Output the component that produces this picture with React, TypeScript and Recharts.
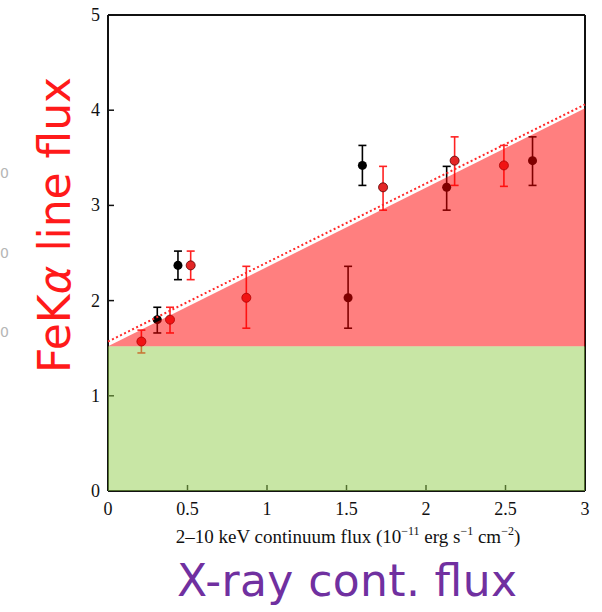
import React from "react";
import {
  ComposedChart,
  XAxis,
  YAxis,
  Scatter,
  ErrorBar,
  Area,
  Line,
} from "recharts";

// Continuum flux (10^-11 erg/s/cm2) vs FeKa line flux, two groups of observations
const blackX = [0.31, 0.44, 1.51, 1.6, 2.13, 2.67];
const blackY = [1.8, 2.37, 2.03, 3.42, 3.19, 3.47];
const blackLo = [1.66, 2.22, 1.71, 3.21, 2.95, 3.21];
const blackHi = [1.93, 2.52, 2.36, 3.63, 3.41, 3.72];

const redX = [0.21, 0.39, 0.52, 0.87, 1.73, 2.18, 2.49];
const redY = [1.57, 1.8, 2.37, 2.03, 3.19, 3.47, 3.42];
const redLo = [1.45, 1.66, 2.22, 1.71, 2.95, 3.21, 3.2];
const redHi = [1.69, 1.93, 2.52, 2.36, 3.41, 3.72, 3.63];

// shaded regions: constant part and the part that scales with continuum
const regionX = [0, 3];
const greenTop = [1.52, 1.52];
const redTop = [1.52, 4.02];
const dottedY = [1.57, 4.06];

const xTicks = [0, 0.5, 1, 1.5, 2, 2.5, 3];
const yTicks = [0, 1, 2, 3, 4, 5];

const toPoints = (xs: number[], ys: number[], lo: number[], hi: number[]) =>
  xs.map((x, i) => ({ x, y: ys[i], err: [ys[i] - lo[i], hi[i] - ys[i]] }));

const blackData = toPoints(blackX, blackY, blackLo, blackHi);
const redData = toPoints(redX, redY, redLo, redHi);
const greenData = regionX.map((x, i) => ({ x, y: greenTop[i] }));
const wedgeData = regionX.map((x, i) => ({ x, y: redTop[i] }));
const dottedData = regionX.map((x, i) => ({ x, y: dottedY[i] }));

const SERIF = "Liberation Serif";
const SANS = "DejaVu Sans";

function XTick({ x, y, payload }: any) {
  return (
    <text
      x={x}
      y={y + 13}
      textAnchor="middle"
      fontFamily={SERIF}
      fontSize={18}
      fill="#111"
    >
      {payload.value}
    </text>
  );
}

function YTick({ x, y, payload }: any) {
  return (
    <text
      x={x}
      y={y + 6}
      textAnchor="end"
      fontFamily={SERIF}
      fontSize={18}
      fill="#111"
    >
      {payload.value}
    </text>
  );
}

function XTitle() {
  return (
    <text
      x={348}
      y={543}
      textAnchor="middle"
      fontFamily={SERIF}
      fontSize={19}
      fill="#111"
    >
      <tspan>2–10 keV continuum flux (10</tspan>
      <tspan fontSize={12} dy={-8}>−11</tspan>
      <tspan dy={8}> erg s</tspan>
      <tspan fontSize={12} dy={-8}>−1</tspan>
      <tspan dy={8}> cm</tspan>
      <tspan fontSize={12} dy={-8}>−2</tspan>
      <tspan dy={8}>)</tspan>
    </text>
  );
}

const axisLine = { stroke: "#111", strokeWidth: 2 };
const tickLine = { stroke: "#111", strokeWidth: 1.5 };

export default function App() {
  return (
    <div
      style={{
        position: "absolute",
        left: 0,
        top: 0,
        width: 602,
        height: 612,
        background: "#fff",
        overflow: "hidden",
      }}
    >
      <ComposedChart
        width={602}
        height={612}
        margin={{ top: 10, right: 12, left: 78, bottom: 91 }}
      >
        <XAxis
          xAxisId="b"
          type="number"
          dataKey="x"
          domain={[0, 3]}
          ticks={xTicks}
          height={30}
          tickSize={-6}
          tickMargin={17}
          tick={<XTick />}
          axisLine={axisLine}
          tickLine={tickLine}
          label={<XTitle />}
        />
        <XAxis
          xAxisId="t"
          orientation="top"
          type="number"
          dataKey="x"
          domain={[0, 3]}
          ticks={xTicks}
          height={5}
          tickSize={-6}
          tick={false}
          axisLine={axisLine}
          tickLine={tickLine}
        />
        <YAxis
          yAxisId="l"
          type="number"
          domain={[0, 5]}
          ticks={yTicks}
          width={30}
          tickSize={-6}
          tickMargin={14}
          tick={<YTick />}
          axisLine={axisLine}
          tickLine={tickLine}
        />
        <YAxis
          yAxisId="r"
          orientation="right"
          type="number"
          domain={[0, 5]}
          ticks={yTicks}
          width={5}
          tickSize={-6}
          tick={false}
          axisLine={axisLine}
          tickLine={tickLine}
        />
        <Scatter
          xAxisId="b"
          yAxisId="l"
          data={blackData}
          dataKey="y"
          shape="circle"
          fill="#000"
          isAnimationActive={false}
        >
          <ErrorBar
            dataKey="err"
            direction="y"
            width={4}
            stroke="#000"
            strokeWidth={1.6}
          />
        </Scatter>
        <Scatter
          xAxisId="b"
          yAxisId="l"
          data={redData}
          dataKey="y"
          shape="circle"
          fill="#e32626"
          stroke="#5a0000"
          strokeWidth={0.8}
          isAnimationActive={false}
        >
          <ErrorBar
            dataKey="err"
            direction="y"
            width={4}
            stroke="#f22"
            strokeWidth={1.6}
          />
        </Scatter>
        <Area
          xAxisId="b"
          yAxisId="l"
          data={greenData}
          dataKey="y"
          type="linear"
          baseValue={0}
          fill="#91cd4b"
          fillOpacity={0.5}
          stroke="none"
          zIndex={800}
          isAnimationActive={false}
        />
        <Area
          xAxisId="b"
          yAxisId="l"
          data={wedgeData}
          dataKey="y"
          type="linear"
          baseValue={1.52}
          fill="#ff0000"
          fillOpacity={0.5}
          stroke="none"
          zIndex={800}
          isAnimationActive={false}
        />
        <Line
          xAxisId="b"
          yAxisId="l"
          data={dottedData}
          dataKey="y"
          type="linear"
          stroke="#ff2a2a"
          strokeWidth={2}
          strokeDasharray="2 2.5"
          dot={false}
          zIndex={850}
          isAnimationActive={false}
        />
      </ComposedChart>
      <svg
        width={602}
        height={612}
        style={{ position: "absolute", left: 0, top: 0, pointerEvents: "none" }}
      >
        {[178, 258, 337].map((y) => (
          <text key={y} x={0} y={y} fontFamily={SANS} fontSize={14} fill="#b5b5b5">
            0
          </text>
        ))}
        <text
          x={70}
          y={225}
          transform="rotate(-90 70 225)"
          textAnchor="middle"
          fontFamily={SANS}
          fontSize={44}
          fill="#ff1a1a"
          textLength={296}
          lengthAdjust="spacing"
        >
          FeK<tspan fontStyle="italic">α</tspan> line flux
        </text>
        <text
          x={347}
          y={596}
          textAnchor="middle"
          fontFamily={SANS}
          fontSize={44}
          fill="#7030a0"
          textLength={340}
          lengthAdjust="spacing"
        >
          X-ray cont. flux
        </text>
      </svg>
    </div>
  );
}
